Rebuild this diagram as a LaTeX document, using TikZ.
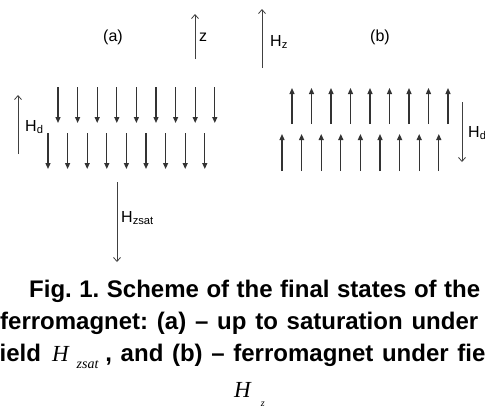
\documentclass[tikz,border=0pt]{standalone}
\usepackage{fontspec}
\setmainfont{Liberation Sans}
\newfontfamily\tms{Liberation Serif}
\usetikzlibrary{arrows.meta}
\frenchspacing

\begin{document}
\begin{tikzpicture}[x=1pt,y=-1pt,
		field/.style={draw=black!75,line width=0.8pt,-{Straight Barb[length=4pt,width=7pt]}},
		spin/.style={draw=black!80,line width=1.2pt,-{Triangle[length=6pt,width=5pt]}},
		lbl/.style={font=\fontsize{16}{16}\selectfont,inner sep=0pt},
		captxt/.style={font=\fontsize{24}{24}\selectfont\bfseries,inner sep=0pt,anchor=base west}]
	\useasboundingbox (0,0) rectangle (485,408);
	\clip (0,0) rectangle (485,408);
	\node[lbl] (la) at (113,37) {(a)};
	\node[lbl] (lb) at (380,37) {(b)};
	\coordinate (z0) at (195,59); \coordinate (z1) at (195,14);
	\draw[field] (z0) -- (z1);
	\node[lbl,anchor=west] (lz) at (199,37) {z};
	\coordinate (hz0) at (262,68); \coordinate (hz1) at (262,9);
	\draw[field] (hz0) -- (hz1);
	\node[lbl,anchor=west] (lhz) at (270,42) {H\textsubscript{z}};
	\coordinate (hda0) at (18,154); \coordinate (hda1) at (18,95);
	\draw[field] (hda0) -- (hda1);
	\node[lbl,anchor=west] (lhda) at (25,127) {H\textsubscript{d}};
	\coordinate (hs0) at (117,182); \coordinate (hs1) at (117,262);
	\draw[field] (hs0) -- (hs1);
	\node[lbl,anchor=west] (lhs) at (121,218) {H\textsubscript{zsat}};
	\coordinate (hdb0) at (462,102); \coordinate (hdb1) at (462,162);
	\draw[field] (hdb0) -- (hdb1);
	\node[lbl,anchor=west] (lhdb) at (468,133) {H\textsubscript{d}};
	\foreach \i in {0,...,8} {
		\coordinate (at\i) at ({58+19.6*\i},87); \coordinate (ab\i) at ({58+19.6*\i},123);
		\coordinate (ct\i) at ({48+19.6*\i},133); \coordinate (cb\i) at ({48+19.6*\i},169);
		\coordinate (bt\i) at ({292+19.5*\i},88); \coordinate (bb\i) at ({292+19.5*\i},124);
		\coordinate (dt\i) at ({282+19.6*\i},134); \coordinate (db\i) at ({282+19.6*\i},171);
		\draw[spin] (at\i) -- (ab\i);
		\draw[spin] (ct\i) -- (cb\i);
		\draw[spin] (bb\i) -- (bt\i);
		\draw[spin] (db\i) -- (dt\i);
	}
	\node[captxt] (c1) at (29,297) {\makebox[451pt][s]{Fig. 1. Scheme of the final states of the}};
	\node[captxt] (c2) at (0,329) {\makebox[478pt][s]{ferromagnet: (a) – up to saturation under}};
	\node[captxt] (c3) at (-8.5,361) {field\hspace{11pt}{\tms\mdseries\itshape\fontsize{23}{23}\selectfont H}\hspace{8pt}\raisebox{-7pt}{\tms\mdseries\itshape\fontsize{14}{14}\selectfont zsat}\hspace{7pt}\makebox[352pt][s]{, and (b) – ferromagnet under\ }field};
	\node[inner sep=0pt,anchor=base west] (hzc) at (234,397) {{\tms\itshape\fontsize{23}{23}\selectfont H}\hspace{10pt}\raisebox{-9pt}{\tms\itshape\fontsize{10}{10}\selectfont z}};
\end{tikzpicture}
\end{document}
